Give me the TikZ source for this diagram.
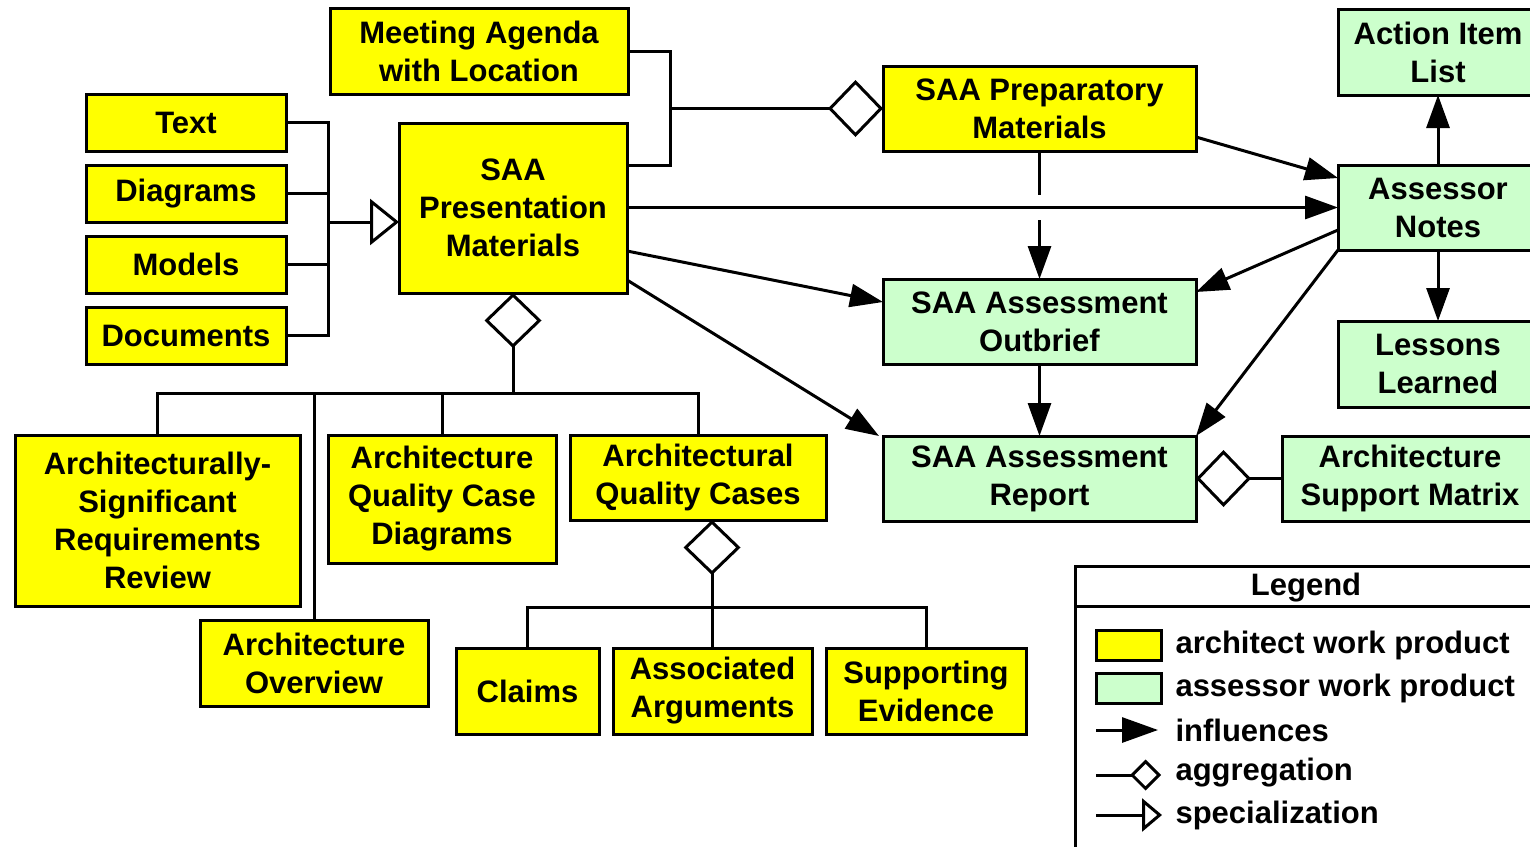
\documentclass[tikz,border=0pt]{standalone}
\usepackage{fontspec}
\setmainfont{Liberation Sans}
\usetikzlibrary{arrows.meta}
\definecolor{arch}{HTML}{FFFF00}
\definecolor{assr}{HTML}{CCFFCC}
\begin{document}
\begin{tikzpicture}[x=1pt,y=-1pt,
  line width=3pt, line join=miter,
  wp/.style={draw=black, line width=3pt, inner sep=0pt, outer sep=0pt, align=center,
    font=\fontsize{31}{38}\selectfont\bfseries},
  ybox/.style={wp, fill=arch},
  gbox/.style={wp, fill=assr},
  infl/.style={-{Triangle[length=33pt,width=23pt]}},
  agg/.style={-{Diamond[open,length=55pt,width=57pt]}},
  spec/.style={-{Triangle[open,length=29pt,width=46pt]}},
  lgtext/.style={anchor=west, inner sep=0pt, font=\fontsize{31}{38}\selectfont\bfseries}
]
\clip (0,0) rectangle (1530,846);
\fill[white] (0,0) rectangle (1530,846);

% architect work products
\node[ybox, minimum width=298pt, minimum height=86pt] (meet) at (479,51) {Meeting Agenda\\with Location};
\node[ybox, minimum width=200pt, minimum height=57pt] (text) at (186,122.5) {Text};
\node[ybox, minimum width=200pt, minimum height=57pt] (diag) at (186,193.5) {Diagrams};
\node[ybox, minimum width=200pt, minimum height=57pt] (models) at (186,264.5) {Models};
\node[ybox, minimum width=200pt, minimum height=57pt] (docs) at (186,335.5) {Documents};
\node[ybox, minimum width=228pt, minimum height=170pt] (pres) at (513,208) {SAA\\Presentation\\Materials};
\node[ybox, minimum width=313pt, minimum height=85pt] (prep) at (1039.5,108.5) {SAA Preparatory\\Materials};
\node[ybox, minimum width=285pt, minimum height=171pt] (asr) at (157.5,520.5) {Architecturally-\\Significant\\Requirements\\Review};
\node[ybox, minimum width=228pt, minimum height=128pt] (aqcd) at (442,499) {Architecture\\Quality Case\\Diagrams};
\node[ybox, minimum width=256pt, minimum height=85pt] (aqc) at (698,477.5) {Architectural\\Quality Cases};
\node[ybox, minimum width=228pt, minimum height=86pt] (overview) at (314,663) {Architecture\\Overview};
\node[ybox, minimum width=143pt, minimum height=86pt] (claims) at (527.5,691) {Claims};
\node[ybox, minimum width=199pt, minimum height=86pt] (assoc) at (712.5,691) {Associated\\Arguments};
\node[ybox, minimum width=200pt, minimum height=86pt] (support) at (926,691) {Supporting\\Evidence};

% assessor work products
\node[gbox, minimum width=200pt, minimum height=86pt] (action) at (1438,52) {Action Item\\List};
\node[gbox, minimum width=200pt, minimum height=85pt] (notes) at (1438,207.5) {Assessor\\Notes};
\node[gbox, minimum width=200pt, minimum height=86pt] (lessons) at (1438,364) {Lessons\\Learned};
\node[gbox, minimum width=313pt, minimum height=85pt] (outbrief) at (1039.5,321.5) {SAA Assessment\\Outbrief};
\node[gbox, minimum width=313pt, minimum height=85pt] (report) at (1039.5,478.5) {SAA Assessment\\Report};
\node[gbox, minimum width=256pt, minimum height=85pt] (asm) at (1410,478.5) {Architecture\\Support Matrix};

% specialization bus
\coordinate (lbusT) at (328,122.5);
\coordinate (lbusB) at (328,335.5);
\coordinate (spj) at (328,222);
\draw (text.east) -- (lbusT) -- (lbusB) -- (docs.east);
\draw (diag.east) -- (diag.east -| lbusT);
\draw (models.east) -- (models.east -| lbusT);
\draw[spec] (spj) -- (spj -| pres.west);

% aggregation into preparatory materials
\coordinate (mbT) at (670,51);
\coordinate (mbB) at (670,165);
\coordinate (mb) at (670,108.5);
\draw (meet.east) -- (mbT) -- (mbB) -- (mbB -| pres.east);
\draw[agg] (mb) -- (prep.west);

% aggregation into presentation materials
\coordinate (pb) at (513,393);
\draw[agg] (pb) -- (pres.south);
\draw (asr.north) -- (asr.north |- pb) -- (aqc.north |- pb) -- (aqc.north);
\draw (aqcd.north) -- (aqcd.north |- pb);
\draw (overview.north) -- (overview.north |- pb);

% aggregation into quality cases
\coordinate (qb) at (712,607);
\draw[agg] (qb) -- (aqc.south -| qb);
\draw (claims.north) -- (claims.north |- qb) -- (support.north |- qb) -- (support.north);
\draw (assoc.north -| qb) -- (qb);

% influences
\draw[infl] (notes.west -| pres.east) -- (notes.west);
\draw[infl] ([yshift=-28.5pt]prep.east) -- ([yshift=29.5pt]notes.west);
\draw[infl] ([yshift=-22.5pt]notes.west) -- ([yshift=29.5pt]outbrief.east);
\draw[infl] (notes.south west) -- (report.north east);
\draw[infl] ([yshift=-43pt]pres.east) -- ([yshift=19.5pt]outbrief.west);
\draw[infl] ([yshift=-72pt]pres.east) -- ([xshift=-4pt]report.north west);
\coordinate (gapT) at (1039.5,195);
\coordinate (gapB) at (1039.5,220);
\draw (prep.south) -- (gapT);
\draw[infl] (gapB) -- (outbrief.north);
\draw[infl] (outbrief.south) -- (report.north);
\draw[infl] (notes.north) -- (action.south);
\draw[infl] (notes.south) -- (lessons.north);
\draw[agg] (asm.west) -- (report.east);

% legend
\node[draw, line width=3pt, minimum width=465pt, minimum height=300pt, inner sep=0pt, outer sep=0pt] (legend) at (1307.5,716) {};
\coordinate (lgL) at (1075,606);
\draw (lgL) -- (lgL -| legend.east);
\node[lgtext, anchor=center] (lgtitle) at (1306,588) {Legend};
\node[draw, line width=3pt, fill=arch, minimum width=65pt, minimum height=30pt, inner sep=0pt] (sw1) at (1128.5,645) {};
\node[draw, line width=3pt, fill=assr, minimum width=65pt, minimum height=30pt, inner sep=0pt] (sw2) at (1128.5,688) {};
\node[lgtext] (l1) at (1174,645) {architect work product};
\node[lgtext] (l2) at (1174,688) {assessor work product};
\node[lgtext] (l3) at (1174,730) {influences};
\node[lgtext] (l4) at (1174,773) {aggregation};
\node[lgtext] (l5) at (1174,815) {specialization};
\coordinate (a1) at (1096,730); \coordinate (a2) at (1158,730);
\coordinate (b1) at (1096,775); \coordinate (b2) at (1161,775);
\coordinate (c1) at (1096,815); \coordinate (c2) at (1162,815);
\draw[-{Triangle[length=36pt,width=25pt]}] (a1) -- (a2);
\draw[-{Diamond[open,length=31pt,width=31pt]}] (b1) -- (b2);
\draw[-{Triangle[open,length=20pt,width=33pt]}] (c1) -- (c2);
\end{tikzpicture}
\end{document}
